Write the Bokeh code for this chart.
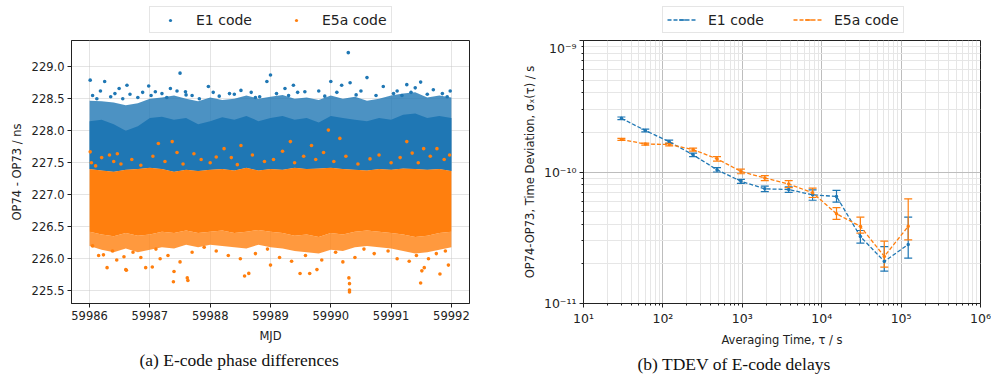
import numpy as np
from bokeh.plotting import figure
from bokeh.models import (Legend, LegendItem, FixedTicker, Whisker, ColumnDataSource,
                          Title, TeeHead, Range1d, SingleIntervalTicker, NumeralTickFormatter)
from bokeh.layouts import row, column
from bokeh.embed import file_html
from bokeh.resources import INLINE

BLUE = "#1f77b4"
ORANGE = "#ff7f0e"
TICK_FONT = "DejaVu Sans"

# ---------------- left panel: E-code phase differences (band envelopes)
mjd_grid = [59986.0, 59986.2, 59986.4, 59986.6, 59986.8, 59987.0, 59987.2, 59987.4, 59987.6, 59987.8,
            59988.0, 59988.2, 59988.4, 59988.6, 59988.8, 59989.0, 59989.2, 59989.4, 59989.6, 59989.8,
            59990.0, 59990.2, 59990.4, 59990.6, 59990.8, 59991.0, 59991.2, 59991.4, 59991.6, 59991.8,
            59992.0]
e1_fringe_top = [228.47, 228.46, 228.44, 228.40, 228.43, 228.50, 228.52, 228.55, 228.50, 228.46,
                 228.52, 228.48, 228.50, 228.55, 228.50, 228.53, 228.56, 228.50, 228.52, 228.48,
                 228.55, 228.50, 228.53, 228.47, 228.50, 228.55, 228.58, 228.60, 228.52, 228.55,
                 228.52]
e1_core_top = [228.15, 228.17, 228.10, 228.00, 228.07, 228.20, 228.22, 228.17, 228.20, 228.10,
               228.15, 228.21, 228.17, 228.23, 228.15, 228.20, 228.23, 228.17, 228.20, 228.13,
               228.23, 228.20, 228.17, 228.15, 228.20, 228.17, 228.25, 228.27, 228.20, 228.23,
               228.20]
e5a_core_top = [227.40, 227.38, 227.36, 227.39, 227.40, 227.42, 227.40, 227.36, 227.39, 227.37,
                227.39, 227.40, 227.38, 227.42, 227.38, 227.40, 227.39, 227.42, 227.40, 227.41,
                227.42, 227.40, 227.39, 227.38, 227.40, 227.39, 227.41, 227.40, 227.39, 227.40,
                227.37]
e5a_core_bot = [226.42, 226.38, 226.35, 226.40, 226.36, 226.38, 226.42, 226.40, 226.44, 226.40,
                226.42, 226.44, 226.40, 226.42, 226.45, 226.42, 226.40, 226.36, 226.38, 226.34,
                226.40, 226.38, 226.42, 226.44, 226.42, 226.40, 226.38, 226.34, 226.36, 226.40,
                226.42]
e5a_fringe_bot = [226.20, 226.14, 226.10, 226.16, 226.10, 226.14, 226.18, 226.16, 226.22, 226.18,
                  226.22, 226.20, 226.18, 226.16, 226.22, 226.18, 226.16, 226.12, 226.10, 226.08,
                  226.14, 226.12, 226.18, 226.20, 226.18, 226.16, 226.12, 226.08, 226.10, 226.14,
                  226.18]

e1_out_mjd = [59986.01, 59986.25, 59986.49, 59986.62, 59986.67, 59986.98, 59987.09, 59987.34,
              59987.50, 59987.59, 59987.60, 59987.97, 59988.32, 59988.51, 59988.82, 59988.94,
              59989.00, 59989.24, 59989.38, 59989.57, 59990.00, 59990.18, 59990.29, 59990.32,
              59990.60, 59990.87, 59991.04, 59991.26, 59991.40, 59991.49, 59991.93,
              59986.05, 59986.12, 59986.18, 59986.35, 59986.42, 59986.55, 59986.80, 59986.88,
              59987.02, 59987.20, 59987.28, 59987.45, 59987.70, 59987.82, 59988.05, 59988.15,
              59988.40, 59988.68, 59988.75, 59989.10, 59989.30, 59989.45, 59989.80, 59989.90,
              59990.10, 59990.42, 59990.50, 59990.75, 59991.10, 59991.18, 59991.33, 59991.60,
              59991.70, 59991.85, 59991.98]
e1_out_val = [228.79, 228.77, 228.66, 228.71, 228.57, 228.70, 228.61, 228.66,
              228.90, 228.61, 228.56, 228.69, 228.58, 228.63, 228.53, 228.77,
              228.87, 228.66, 228.71, 228.61, 228.77, 228.71, 229.22, 228.75,
              228.83, 228.69, 228.58, 228.72, 228.67, 228.76, 228.53,
              228.55, 228.50, 228.62, 228.53, 228.58, 228.50, 228.52, 228.60,
              228.55, 228.58, 228.52, 228.62, 228.55, 228.50, 228.60, 228.54,
              228.57, 228.60, 228.52, 228.58, 228.55, 228.60, 228.62, 228.54,
              228.60, 228.56, 228.62, 228.55, 228.62, 228.55, 228.60, 228.57,
              228.64, 228.58, 228.62]

e5a_out_mjd = [59986.29, 59986.61, 59986.93, 59987.04, 59986.23, 59986.57, 59987.17, 59987.39,
               59987.63, 59987.40, 59987.62, 59988.57, 59988.64, 59989.49, 59989.65, 59990.31,
               59990.31, 59990.31, 59990.30, 59991.49, 59991.81, 59991.95, 59991.51, 59991.55,
               59989.77, 59989.00, 59986.60,
               59986.05, 59986.15, 59986.38, 59986.45, 59986.72, 59986.85, 59987.10, 59987.30,
               59987.50, 59987.70, 59987.90, 59988.10, 59988.30, 59988.50, 59988.75, 59988.95,
               59989.15, 59989.35, 59989.58, 59989.85, 59990.08, 59990.20, 59990.40, 59990.55,
               59990.72, 59990.95, 59991.10, 59991.30, 59991.42, 59991.62, 59991.75, 59991.90,
               59986.01, 59986.33, 59986.46, 59987.14, 59987.37, 59987.73, 59988.23, 59988.51,
               59989.33, 59989.68, 59989.96, 59990.15, 59991.26, 59991.54, 59991.76, 59988.10,
               59986.03, 59986.10, 59986.20, 59986.40, 59986.52, 59986.70, 59986.85, 59987.05,
               59987.25, 59987.45, 59987.55, 59987.85, 59988.00, 59988.35, 59988.45, 59988.70,
               59988.90, 59989.05, 59989.20, 59989.40, 59989.55, 59989.75, 59989.88, 59990.05,
               59990.25, 59990.45, 59990.65, 59990.80, 59991.00, 59991.15, 59991.35, 59991.45,
               59991.65, 59991.88, 59991.97]
e5a_out_val = [225.86, 225.82, 225.86, 225.87, 226.06, 226.03, 226.00, 225.64,
               225.66, 225.80, 225.70, 225.73, 225.77, 225.77, 225.77, 225.51,
               225.48, 225.61, 225.70, 225.62, 225.76, 225.90, 225.81, 225.86,
               225.83, 225.90, 225.83,
               226.20, 226.05, 226.12, 225.98, 226.10, 226.02, 226.15, 226.05,
               225.95, 226.10, 226.18, 226.12, 226.05, 226.00, 226.08, 226.15,
               226.02, 225.96, 226.05, 225.98, 226.10, 225.95, 226.02, 226.15,
               226.08, 226.12, 226.00, 225.96, 226.05, 226.00, 226.08, 226.12,
               227.67, 227.62, 227.64, 227.80, 227.83, 227.64, 227.72, 227.77,
               227.83, 227.77, 228.01, 227.88, 227.83, 227.72, 227.72, 227.59,
               227.50, 227.45, 227.58, 227.52, 227.48, 227.55, 227.46, 227.60,
               227.52, 227.66, 227.48, 227.55, 227.50, 227.58, 227.47, 227.62,
               227.52, 227.55, 227.68, 227.50, 227.60, 227.55, 227.66, 227.52,
               227.60, 227.48, 227.56, 227.62, 227.50, 227.58, 227.65, 227.50,
               227.60, 227.55, 227.62]

left_y_ticks_step = 0.5
left_x_ticks_step = 1

# ---------------- right panel: TDEV
tau = [30, 60, 120, 240, 480, 960, 1920, 3840, 7680, 15360, 30720, 61440, 122880]
e1_tdev = [2.56e-10, 2.07e-10, 1.70e-10, 1.35e-10, 1.04e-10, 8.5e-11, 7.45e-11, 7.36e-11,
           6.7e-11, 6.52e-11, 3.23e-11, 2.09e-11, 2.81e-11]
e1_lo = [2.50e-10, 2.02e-10, 1.65e-10, 1.31e-10, 1.00e-10, 8.2e-11, 7.1e-11, 7.0e-11,
         6.1e-11, 5.9e-11, 2.88e-11, 1.76e-11, 2.21e-11]
e1_hi = [2.62e-10, 2.12e-10, 1.75e-10, 1.39e-10, 1.08e-10, 8.8e-11, 7.8e-11, 7.7e-11,
         7.3e-11, 7.24e-11, 3.59e-11, 2.71e-11, 4.53e-11]
e5a_tdev = [1.77e-10, 1.63e-10, 1.62e-10, 1.48e-10, 1.26e-10, 1.01e-10, 9.0e-11, 8.1e-11,
            6.95e-11, 4.81e-11, 3.86e-11, 2.28e-11, 3.86e-11]
e5a_lo = [1.74e-10, 1.60e-10, 1.58e-10, 1.44e-10, 1.21e-10, 9.7e-11, 8.6e-11, 7.6e-11,
          6.4e-11, 4.36e-11, 3.43e-11, 1.89e-11, 3.05e-11]
e5a_hi = [1.80e-10, 1.66e-10, 1.66e-10, 1.52e-10, 1.31e-10, 1.05e-10, 9.4e-11, 8.6e-11,
          7.55e-11, 5.35e-11, 4.53e-11, 2.98e-11, 6.25e-11]

x_decades = [10.0, 100.0, 1000.0, 10000.0, 100000.0, 1000000.0]
x_decade_labels = ["10¹", "10²", "10³", "10⁴", "10⁵", "10⁶"]
y_decades = [1e-11, 1e-10, 1e-09]
y_decade_labels = ["10⁻¹¹", "10⁻¹⁰", "10⁻⁹"]
mantissas = [2, 3, 4, 5, 6, 7, 8, 9]


def style_axes(p, size="11.5px"):
    p.outline_line_color = "#222222"
    p.outline_line_width = 1
    for ax in (p.xaxis, p.yaxis):
        ax.axis_line_color = "#222222"
        ax.major_tick_line_color = "#222222"
        ax.minor_tick_line_color = "#222222"
        ax.major_tick_out = 4
        ax.major_tick_in = 0
        ax.major_label_text_font = TICK_FONT
        ax.major_label_text_font_size = size
        ax.major_label_text_color = "#222222"
        ax.axis_label_text_font = TICK_FONT
        ax.axis_label_text_font_size = "11.5px"
        ax.axis_label_text_font_style = "normal"
        ax.axis_label_text_color = "#222222"
        ax.major_label_standoff = 3


def legend_figure(border_left, frame_w, border_right):
    # a strip above the plot that only carries the legend (its renderers lie outside its ranges)
    lf = figure(frame_width=frame_w, frame_height=40, output_backend="svg", toolbar_location=None,
                x_axis_location=None, y_axis_location=None,
                x_range=Range1d(-2, -1), y_range=Range1d(-2, -1),
                min_border_left=border_left, min_border_right=border_right,
                min_border_top=0, min_border_bottom=0, outline_line_color=None)
    lf.xgrid.visible = False
    lf.ygrid.visible = False
    return lf


def make_legend(items, x_off, glyph_h, spacing, glyph_w, standoff):
    return Legend(items=items, orientation="horizontal", location=(x_off, 7), padding=4,
                  spacing=spacing, glyph_width=glyph_w, glyph_height=glyph_h, label_height=17,
                  label_standoff=standoff, label_text_font=TICK_FONT, label_text_font_size="14px",
                  label_text_color="#222222", border_line_color="#cccccc", border_line_width=1,
                  background_fill_alpha=1.0, margin=0)


# ===== left figure
p1 = figure(frame_width=398, frame_height=263, output_backend="svg", toolbar_location=None,
            x_range=Range1d(59985.7, 59992.3), y_range=Range1d(225.30, 229.41),
            min_border_left=71, min_border_right=30, min_border_top=0, min_border_bottom=80)
style_axes(p1)
p1.xaxis.ticker = SingleIntervalTicker(interval=left_x_ticks_step)
p1.yaxis.ticker = SingleIntervalTicker(interval=left_y_ticks_step)
p1.xaxis.formatter = NumeralTickFormatter(format="0")
p1.yaxis.formatter = NumeralTickFormatter(format="0.0")
p1.xaxis.minor_tick_line_color = None
p1.yaxis.minor_tick_line_color = None
p1.xaxis.axis_label = "MJD"
p1.yaxis.axis_label = "OP74 - OP73 / ns"
p1.xaxis.axis_label_standoff = 6
p1.yaxis.axis_label_standoff = 5
for g in (p1.xgrid, p1.ygrid):
    g.grid_line_color = "#c8c8c8"
    g.grid_line_dash = "1 1"
    g.grid_line_width = 1

band = ColumnDataSource(dict(x=mjd_grid, e1ft=e1_fringe_top, e1ct=e1_core_top,
                             e5ct=e5a_core_top, e5cb=e5a_core_bot, e5fb=e5a_fringe_bot))
p1.varea(x="x", y1="e5ct", y2="e1ft", source=band, fill_color=BLUE, fill_alpha=0.8)
p1.varea(x="x", y1="e5ct", y2="e1ct", source=band, fill_color=BLUE, fill_alpha=1.0)
p1.scatter(e1_out_mjd, e1_out_val, size=3.6, color=BLUE, line_width=0)
p1.varea(x="x", y1="e5fb", y2="e5cb", source=band, fill_color=ORANGE, fill_alpha=0.8)
p1.varea(x="x", y1="e5cb", y2="e5ct", source=band, fill_color=ORANGE, fill_alpha=1.0)
p1.scatter(e5a_out_mjd, e5a_out_val, size=3.6, color=ORANGE, line_width=0)
p1.add_layout(Title(text="(a) E-code phase differences", align="left", offset=68, standoff=4,
                    text_font="Liberation Serif", text_font_size="17.5px",
                    text_font_style="normal", text_color="#111111"), "below")

lf1 = legend_figure(71, 398, 30)
l_e1 = lf1.scatter(e1_out_mjd, e1_out_val, size=3.6, color=BLUE, line_width=0)
l_e5 = lf1.scatter(e5a_out_mjd, e5a_out_val, size=3.6, color=ORANGE, line_width=0)
lf1.add_layout(make_legend([LegendItem(label="E1 code", renderers=[l_e1]),
                            LegendItem(label="E5a code", renderers=[l_e5])],
                           78, 8, 28, 32, 10), "center")

# ===== right figure
p2 = figure(frame_width=397, frame_height=263, output_backend="svg", toolbar_location=None,
            x_axis_type="log", y_axis_type="log",
            x_range=Range1d(10, 1e6), y_range=Range1d(1e-11, 1e-9),
            min_border_left=84, min_border_right=11, min_border_top=0, min_border_bottom=80)
style_axes(p2, "12.5px")
p2.xaxis.ticker = FixedTicker(ticks=x_decades,
                              minor_ticks=[m * d for d in x_decades[:-1] for m in mantissas])
p2.yaxis.ticker = FixedTicker(ticks=y_decades,
                              minor_ticks=[m * d for d in y_decades[:-1] for m in mantissas])
p2.xaxis.major_label_overrides = dict(zip(x_decades, x_decade_labels))
p2.yaxis.major_label_overrides = dict(zip(y_decades, y_decade_labels))
for ax in (p2.xaxis, p2.yaxis):
    ax.minor_tick_out = 2
    ax.minor_tick_in = 0
p2.xaxis.axis_label = "Averaging Time, τ / s"
p2.yaxis.axis_label = "OP74-OP73, Time Deviation, σₓ(τ) / s"
p2.xaxis.axis_label_standoff = 4
p2.yaxis.axis_label_standoff = 4
for g in (p2.xgrid, p2.ygrid):
    g.grid_line_color = "#bdbdbd"
    g.grid_line_width = 1
    g.minor_grid_line_color = "#e6e6e6"
    g.minor_grid_line_width = 1

lf2 = legend_figure(84, 397, 11)
legend_items = []
for lbl, col, yv, lo, hi in (("E1 code", BLUE, e1_tdev, e1_lo, e1_hi),
                             ("E5a code", ORANGE, e5a_tdev, e5a_lo, e5a_hi)):
    src = ColumnDataSource(dict(t=tau, y=yv, lo=lo, hi=hi))
    p2.line("t", "y", source=src, line_color=col, line_width=1.3, line_dash="4 2")
    p2.add_layout(Whisker(base="t", lower="lo", upper="hi", source=src, line_color=col,
                          line_width=1.2,
                          upper_head=TeeHead(size=8, line_color=col, line_width=1.2),
                          lower_head=TeeHead(size=8, line_color=col, line_width=1.2)))
    p2.scatter("t", "y", source=src, size=3.5, color=col, line_width=0)
    lr = lf2.line("t", "y", source=src, line_color=col, line_width=1.3, line_dash="4 2")
    dr = lf2.scatter("t", "y", source=src, marker="dash", angle=np.pi / 2,
                     line_color=col, line_width=1.3)
    legend_items.append(LegendItem(label=lbl, renderers=[lr, dr]))

lf2.add_layout(make_legend(legend_items, 79, 17, 29, 30, 11), "center")
p2.add_layout(Title(text="(b) TDEV of E-code delays", align="left", offset=54, standoff=4,
                    text_font="Liberation Serif", text_font_size="17.5px",
                    text_font_style="normal", text_color="#111111"), "below")

layout = row(column(lf1, p1), column(lf2, p2))
open("out.html", "w").write(file_html(layout, INLINE))
